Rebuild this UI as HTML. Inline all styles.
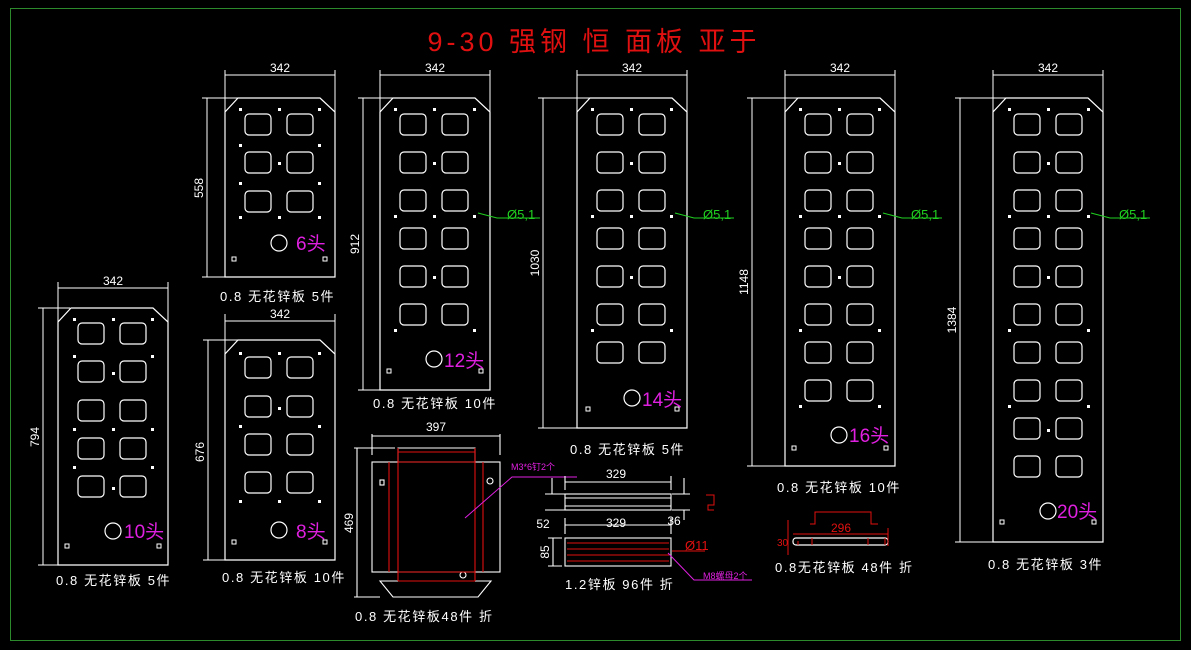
<!DOCTYPE html>
<html><head><meta charset="utf-8"><style>
html,body{margin:0;padding:0;background:#000;}
svg{display:block}
text{font-family:"Liberation Sans","Noto Sans CJK SC",sans-serif;}
.w{fill:#fff;font-size:12px}
.c{fill:#fff;font-size:13px;letter-spacing:1.6px}
</style></head><body>
<svg width="1191" height="650" viewBox="0 0 1191 650" xmlns="http://www.w3.org/2000/svg">
<defs>
<rect id="h" width="26" height="21" rx="4" fill="none" stroke="#fff" stroke-width="1.2"/>
<rect id="d" width="3" height="3" fill="#fff"/>
</defs>
<rect x="0" y="0" width="1191" height="650" fill="#000"/>
<rect x="10.5" y="8.5" width="1170" height="632" fill="none" stroke="#2c8a2c" stroke-width="1"/>
<text x="594" y="51" fill="#e01010" font-size="27" text-anchor="middle" letter-spacing="4">9-30 强钢 恒 面板 亚于</text>

<g fill="none" stroke="#fff" stroke-width="1.2">
<path d="M225,277 V112 L238,98 H320 L335,112 V277 Z"/>
<path d="M58,565 V322 L71,308 H153 L168,322 V565 Z"/>
<path d="M225,560 V354 L238,340 H320 L335,354 V560 Z"/>
<path d="M380,390 V112 L393,98 H475 L490,112 V390 Z"/>
<path d="M577,428 V112 L590,98 H672 L687,112 V428 Z"/>
<path d="M785,466 V112 L798,98 H880 L895,112 V466 Z"/>
<path d="M993,542 V112 L1006,98 H1088 L1103,112 V542 Z"/>
<circle cx="279" cy="243" r="8"/>
<circle cx="113" cy="531" r="8"/>
<circle cx="279" cy="530" r="8"/>
<circle cx="434" cy="359" r="8"/>
<circle cx="632" cy="398" r="8"/>
<circle cx="839" cy="435" r="8"/>
<circle cx="1048" cy="511" r="8"/>
</g>

<g>
<use href="#h" x="245" y="114"/><use href="#h" x="287" y="114"/>
<use href="#h" x="245" y="152"/><use href="#h" x="287" y="152"/>
<use href="#h" x="245" y="191"/><use href="#h" x="287" y="191"/>

<use href="#h" x="78" y="323"/><use href="#h" x="120" y="323"/>
<use href="#h" x="78" y="361"/><use href="#h" x="120" y="361"/>
<use href="#h" x="78" y="400"/><use href="#h" x="120" y="400"/>
<use href="#h" x="78" y="438"/><use href="#h" x="120" y="438"/>
<use href="#h" x="78" y="476"/><use href="#h" x="120" y="476"/>

<use href="#h" x="245" y="357"/><use href="#h" x="287" y="357"/>
<use href="#h" x="245" y="396"/><use href="#h" x="287" y="396"/>
<use href="#h" x="245" y="434"/><use href="#h" x="287" y="434"/>
<use href="#h" x="245" y="472"/><use href="#h" x="287" y="472"/>

<use href="#h" x="400" y="114"/><use href="#h" x="442" y="114"/>
<use href="#h" x="400" y="152"/><use href="#h" x="442" y="152"/>
<use href="#h" x="400" y="190"/><use href="#h" x="442" y="190"/>
<use href="#h" x="400" y="228"/><use href="#h" x="442" y="228"/>
<use href="#h" x="400" y="266"/><use href="#h" x="442" y="266"/>
<use href="#h" x="400" y="304"/><use href="#h" x="442" y="304"/>

<use href="#h" x="597" y="114"/><use href="#h" x="639" y="114"/>
<use href="#h" x="597" y="152"/><use href="#h" x="639" y="152"/>
<use href="#h" x="597" y="190"/><use href="#h" x="639" y="190"/>
<use href="#h" x="597" y="228"/><use href="#h" x="639" y="228"/>
<use href="#h" x="597" y="266"/><use href="#h" x="639" y="266"/>
<use href="#h" x="597" y="304"/><use href="#h" x="639" y="304"/>
<use href="#h" x="597" y="342"/><use href="#h" x="639" y="342"/>

<use href="#h" x="805" y="114"/><use href="#h" x="847" y="114"/>
<use href="#h" x="805" y="152"/><use href="#h" x="847" y="152"/>
<use href="#h" x="805" y="190"/><use href="#h" x="847" y="190"/>
<use href="#h" x="805" y="228"/><use href="#h" x="847" y="228"/>
<use href="#h" x="805" y="266"/><use href="#h" x="847" y="266"/>
<use href="#h" x="805" y="304"/><use href="#h" x="847" y="304"/>
<use href="#h" x="805" y="342"/><use href="#h" x="847" y="342"/>
<use href="#h" x="805" y="380"/><use href="#h" x="847" y="380"/>

<use href="#h" x="1014" y="114"/><use href="#h" x="1056" y="114"/>
<use href="#h" x="1014" y="152"/><use href="#h" x="1056" y="152"/>
<use href="#h" x="1014" y="190"/><use href="#h" x="1056" y="190"/>
<use href="#h" x="1014" y="228"/><use href="#h" x="1056" y="228"/>
<use href="#h" x="1014" y="266"/><use href="#h" x="1056" y="266"/>
<use href="#h" x="1014" y="304"/><use href="#h" x="1056" y="304"/>
<use href="#h" x="1014" y="342"/><use href="#h" x="1056" y="342"/>
<use href="#h" x="1014" y="380"/><use href="#h" x="1056" y="380"/>
<use href="#h" x="1014" y="418"/><use href="#h" x="1056" y="418"/>
<use href="#h" x="1014" y="456"/><use href="#h" x="1056" y="456"/>
</g>
<g>
<use href="#d" x="239" y="108"/><use href="#d" x="278" y="108"/><use href="#d" x="318" y="108"/>
<use href="#d" x="239" y="144"/><use href="#d" x="318" y="144"/><use href="#d" x="278" y="162"/>
<use href="#d" x="239" y="182"/><use href="#d" x="318" y="182"/>
<use href="#d" x="239" y="216"/><use href="#d" x="278" y="216"/><use href="#d" x="318" y="216"/>
<rect x="232" y="257" width="4" height="4" fill="none" stroke="#fff"/><rect x="323" y="257" width="4" height="4" fill="none" stroke="#fff"/>
<use href="#d" x="73" y="318"/><use href="#d" x="112" y="318"/><use href="#d" x="151" y="318"/>
<use href="#d" x="112" y="372"/><use href="#d" x="73" y="355"/><use href="#d" x="151" y="355"/>
<use href="#d" x="73" y="428"/><use href="#d" x="151" y="428"/><use href="#d" x="112" y="428"/>
<use href="#d" x="112" y="487"/><use href="#d" x="73" y="466"/><use href="#d" x="151" y="466"/>
<rect x="65" y="544" width="4" height="4" fill="none" stroke="#fff"/><rect x="157" y="544" width="4" height="4" fill="none" stroke="#fff"/>
<use href="#d" x="239" y="352"/><use href="#d" x="278" y="352"/><use href="#d" x="318" y="352"/>
<use href="#d" x="239" y="425"/><use href="#d" x="318" y="425"/><use href="#d" x="278" y="407"/>
<use href="#d" x="239" y="500"/><use href="#d" x="278" y="500"/><use href="#d" x="318" y="500"/>
<rect x="232" y="540" width="4" height="4" fill="none" stroke="#fff"/><rect x="323" y="540" width="4" height="4" fill="none" stroke="#fff"/>
<use href="#d" x="394" y="108"/><use href="#d" x="433" y="108"/><use href="#d" x="473" y="108"/>
<use href="#d" x="394" y="215"/><use href="#d" x="433" y="215"/><use href="#d" x="473" y="215"/>
<use href="#d" x="394" y="329"/><use href="#d" x="473" y="329"/><use href="#d" x="433" y="162"/><use href="#d" x="433" y="276"/>
<rect x="387" y="369" width="4" height="4" fill="none" stroke="#fff"/><rect x="479" y="369" width="4" height="4" fill="none" stroke="#fff"/>
<use href="#d" x="591" y="108"/><use href="#d" x="630" y="108"/><use href="#d" x="670" y="108"/>
<use href="#d" x="591" y="215"/><use href="#d" x="630" y="215"/><use href="#d" x="670" y="215"/>
<use href="#d" x="591" y="329"/><use href="#d" x="670" y="329"/><use href="#d" x="630" y="162"/><use href="#d" x="630" y="276"/>
<rect x="586" y="407" width="4" height="4" fill="none" stroke="#fff"/><rect x="675" y="407" width="4" height="4" fill="none" stroke="#fff"/>
<use href="#d" x="799" y="108"/><use href="#d" x="838" y="108"/><use href="#d" x="878" y="108"/>
<use href="#d" x="799" y="215"/><use href="#d" x="838" y="215"/><use href="#d" x="878" y="215"/>
<use href="#d" x="799" y="329"/><use href="#d" x="878" y="329"/><use href="#d" x="838" y="162"/><use href="#d" x="838" y="276"/>
<use href="#d" x="799" y="405"/><use href="#d" x="878" y="405"/>
<rect x="792" y="446" width="4" height="4" fill="none" stroke="#fff"/><rect x="884" y="446" width="4" height="4" fill="none" stroke="#fff"/>
<use href="#d" x="1008" y="108"/><use href="#d" x="1047" y="108"/><use href="#d" x="1087" y="108"/>
<use href="#d" x="1008" y="215"/><use href="#d" x="1047" y="215"/><use href="#d" x="1087" y="215"/>
<use href="#d" x="1008" y="329"/><use href="#d" x="1087" y="329"/><use href="#d" x="1047" y="162"/><use href="#d" x="1047" y="276"/>
<use href="#d" x="1008" y="405"/><use href="#d" x="1087" y="405"/><use href="#d" x="1047" y="429"/>
<rect x="1000" y="520" width="4" height="4" fill="none" stroke="#fff"/><rect x="1092" y="520" width="4" height="4" fill="none" stroke="#fff"/>
</g>

<g stroke="#fff" stroke-width="1" fill="none">
<path d="M225,70V112M335,70V112M225,75H335"/>
<path d="M58,282V322M168,282V322M58,288H168"/>
<path d="M225,314V354M335,314V354M225,321H335"/>
<path d="M380,70V112M490,70V112M380,75H490"/>
<path d="M577,70V112M687,70V112M577,75H687"/>
<path d="M785,70V112M895,70V112M785,75H895"/>
<path d="M993,70V112M1103,70V112M993,75H1103"/>
<path d="M202,98H240M202,277H225M207,98V277"/>
<path d="M38,308H70M38,565H58M43,308V565"/>
<path d="M203,340H240M203,560H225M208,340V560"/>
<path d="M358,98H395M358,390H380M363,98V390"/>
<path d="M538,98H592M538,428H577M543,98V428"/>
<path d="M747,98H800M747,466H785M752,98V466"/>
<path d="M955,98H1008M955,542H993M960,98V542"/>
</g>
<g class="w" text-anchor="middle">
<text x="280" y="72">342</text><text x="113" y="285">342</text><text x="280" y="318">342</text>
<text x="435" y="72">342</text><text x="632" y="72">342</text><text x="840" y="72">342</text><text x="1048" y="72">342</text>
<text transform="translate(203,188) rotate(-90)">558</text>
<text transform="translate(39,437) rotate(-90)">794</text>
<text transform="translate(204,452) rotate(-90)">676</text>
<text transform="translate(359,244) rotate(-90)">912</text>
<text transform="translate(539,263) rotate(-90)">1030</text>
<text transform="translate(748,282) rotate(-90)">1148</text>
<text transform="translate(956,320) rotate(-90)">1384</text>
</g>
<g fill="#e020e0" font-size="19">
<text x="296" y="250">6头</text><text x="124" y="538">10头</text><text x="296" y="538">8头</text>
<text x="444" y="367">12头</text><text x="642" y="406">14头</text><text x="849" y="442">16头</text><text x="1057" y="518">20头</text>
</g>
<g class="c">
<text x="220" y="301">0.8 无花锌板 5件</text>
<text x="56" y="585">0.8 无花锌板 5件</text>
<text x="222" y="582">0.8 无花锌板 10件</text>
<text x="373" y="408">0.8 无花锌板 10件</text>
<text x="570" y="454">0.8 无花锌板 5件</text>
<text x="777" y="492">0.8 无花锌板 10件</text>
<text x="988" y="569">0.8 无花锌板 3件</text>
<text x="355" y="621">0.8 无花锌板48件 折</text>
<text x="565" y="589">1.2锌板 96件 折</text>
<text x="775" y="572">0.8无花锌板 48件 折</text>
</g>
<g stroke="#20d020" fill="none">
<path d="M478,213L497,218H540"/><path d="M675,213L694,218H734"/><path d="M883,213L902,218H942"/><path d="M1091,213L1110,218H1150"/>
</g>
<g fill="#20d020" font-size="13">
<text x="507" y="219">Ø5,1</text><text x="703" y="219">Ø5,1</text><text x="911" y="219">Ø5,1</text><text x="1119" y="219">Ø5,1</text>
</g>

<g fill="none" stroke="#fff" stroke-width="1.1">
<rect x="372" y="462" width="128" height="110"/>
<path d="M398,462V448H475V462"/>
<path d="M380,581H491L478,597H393Z"/>
<path d="M372,455V434M500,455V434M372,436H500M354,448H395M354,597H380M357,448V597"/>
<rect x="380" y="480" width="4" height="5"/><circle cx="490" cy="481" r="3"/><circle cx="463" cy="575" r="3"/>
</g>
<g fill="none" stroke="#e01010" stroke-width="1.1">
<path d="M389,462V572M398,448V581M475,448V581M483,462V572M398,452H475M398,462H475M398,572H475M398,581H475"/>
</g>
<path d="M465,518L512,477H577" stroke="#e020e0" fill="none"/>
<text x="511" y="470" fill="#e020e0" font-size="9">M3*6钉2个</text>
<text class="w" x="436" y="431" text-anchor="middle">397</text>
<text class="w" transform="translate(353,523) rotate(-90)" text-anchor="middle">469</text>

<g fill="none" stroke="#fff" stroke-width="1.1">
<rect x="565" y="494" width="106" height="16"/><path d="M565,498H671M565,506H671"/>
<rect x="565" y="538" width="106" height="28"/>
<path d="M565,482H671M565,476V490M671,476V490M545,494H565M545,510H565M552,478V494M684,478V494M684,510V520M672,494H690M672,510H690"/>
<path d="M565,525H671M565,518V534M671,518V534M548,538H562M548,566H562M553,538V566"/>
</g>
<g fill="none" stroke="#e01010"><path d="M567,543H669M567,549H669M567,555H669M567,561H669"/>
<path d="M706,495H714V505H708V510H714"/><path d="M672,551H705"/></g>
<path d="M668,553L694,580H752" stroke="#e020e0" fill="none"/>
<g class="w" text-anchor="middle"><text x="616" y="478">329</text><text x="616" y="527">329</text><text x="543" y="528">52</text><text x="674" y="525">36</text>
<text transform="translate(549,552) rotate(-90)">85</text></g>
<text x="685" y="550" fill="#e01010" font-size="13">Ø11</text>
<text x="703" y="579" fill="#e020e0" font-size="9">M8螺母2个</text>

<rect x="793" y="538" width="95" height="7" rx="3" fill="none" stroke="#fff" stroke-width="1.2"/>
<g fill="none" stroke="#e01010"><path d="M810,524H815V512H871V524H878M793,534H888M888,528V546M798,541V545M812,538V545M868,538V545M885,538V545M788,520V555"/></g>
<text x="841" y="532" fill="#e01010" font-size="12" text-anchor="middle">296</text>
<text x="777" y="546" fill="#e01010" font-size="10">30</text>
</svg>
</body></html>
